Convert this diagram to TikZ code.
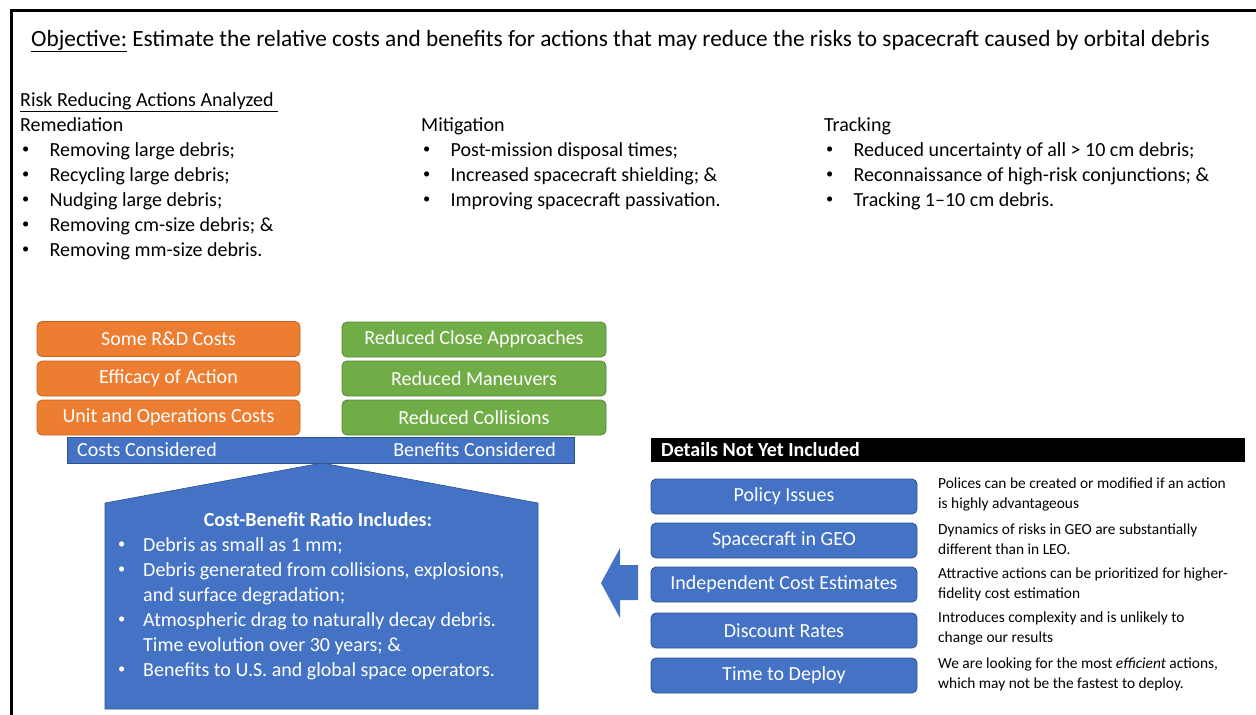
\documentclass[tikz,border=0pt]{standalone}
\usepackage{fontspec}
\setmainfont{Carlito}
\definecolor{ofill}{HTML}{ED7D31}
\definecolor{oline}{HTML}{C5621C}
\definecolor{gfill}{HTML}{70AD47}
\definecolor{gline}{HTML}{53873A}
\definecolor{bfill}{HTML}{4472C4}
\definecolor{bline}{HTML}{2F528F}
\newcommand\smallbul{\raisebox{0.12em}{\scalebox{0.72}{\textbullet}}}
\newcommand\lbul{\makebox[29.5pt][l]{\hspace{2pt}\smallbul}}
\newcommand\hbul{\makebox[25pt][l]{\smallbul}}
\begin{document}
\begin{tikzpicture}[x=1pt,y=-1pt,
  big/.style={font=\fontsize{20}{25}\selectfont},
  small/.style={font=\fontsize{15.4}{19.8}\selectfont},
  listtext/.style={big, anchor=north west, inner sep=0pt, align=left},
  desctext/.style={small, anchor=north west, inner sep=0pt, align=left},
  tile/.style={big, text=white, rounded corners=5pt, line width=0.8pt,
    minimum width=264pt, minimum height=35pt, inner sep=0pt},
  obox/.style={tile, fill=ofill, draw=oline},
  gbox/.style={tile, fill=gfill, draw=gline},
  bbox/.style={tile, fill=bfill, draw=bline, minimum width=266pt},
  barlabel/.style={big, text=white, inner sep=0pt}]
\useasboundingbox (0,0) rectangle (1256,715);
\begin{scope}
\clip (0,0) rectangle (1256,715);
% outer frame
\draw[line width=3pt] (11,730) -- (11,10) -- (1270,10);
\end{scope}

% objective line
\node[anchor=base west, inner sep=0pt, font=\fontsize{23.3}{27}\selectfont] (title) at (31,46)
  {\underline{Objective:} Estimate the relative costs and benefits for actions that may reduce the risks to spacecraft caused by orbital debris};

% risk reducing actions
\node[big, anchor=base west, inner sep=0pt] (rra) at (20,106) {\underline{Risk Reducing Actions Analyzed\ }};
\node[listtext] (remed) at (20,117) {Remediation\\
  \lbul Removing large debris;\\
  \lbul Recycling large debris;\\
  \lbul Nudging large debris;\\
  \lbul Removing cm-size debris; \&\\
  \lbul Removing mm-size debris.};
\node[listtext] (mitig) at (421,117) {Mitigation\\
  \lbul Post-mission disposal times;\\
  \lbul Increased spacecraft shielding; \&\\
  \lbul Improving spacecraft passivation.};
\node[listtext] (track) at (824,117) {Tracking\\
  \lbul Reduced uncertainty of all \textgreater{} 10 cm debris;\\
  \lbul Reconnaissance of high-risk conjunctions; \&\\
  \lbul Tracking 1--10 cm debris.};

% costs
\node[obox, minimum width=263pt] (rd)  at (168.5,339) {Some R\&D Costs};
\node[obox, minimum width=263pt] (eff) at (168.5,378.5) {Efficacy of Action};
\node[obox, minimum width=263pt] (uoc) at (168.5,417.5) {Unit and Operations Costs};
% benefits
\node[gbox] (rca) at (474,339.5) {Reduced Close Approaches};
\node[gbox] (rm)  at (474,378.5) {Reduced Maneuvers};
\node[gbox] (rc)  at (474,417.5) {Reduced Collisions};

% balance beam
\node[fill=bfill, draw=bline, line width=0.5pt, minimum width=507pt, minimum height=26pt, inner sep=0pt] (beam) at (320.5,450) {};
\node[barlabel, anchor=west] (costs) at (77,450) {Costs Considered};
\node[barlabel, anchor=east] (bens) at (556,450) {Benefits Considered};

% house-shaped summary
\draw[fill=bfill, draw=bline, line width=0.6pt]
  (105,709) -- (105,503) -- (322,463) -- (538,503) -- (538,709) -- cycle;
\node[big, text=white, inner sep=0pt, font=\fontsize{20}{25}\selectfont\bfseries] (cbr) at (318,520) {Cost-Benefit Ratio Includes:};
\node[listtext, text=white] (cbl) at (118,537) {\hbul Debris as small as 1 mm;\\
  \hbul Debris generated from collisions, explosions,\\
  \hspace{25pt}and surface degradation;\\
  \hbul Atmospheric drag to naturally decay debris.\\
  \hspace{25pt}Time evolution over 30 years; \&\\
  \hbul Benefits to U.S. and global space operators.};

% details not yet included
\node[fill=black, minimum width=594pt, minimum height=24pt, inner sep=0pt] (dhead) at (948,450) {};
\node[big, text=white, anchor=west, inner sep=0pt, font=\fontsize{20}{25}\selectfont\bfseries] (dtitle) at (661,450) {Details Not Yet Included};

\node[bbox] (pol) at (784,496.5) {Policy Issues};
\node[bbox] (geo) at (784,540.5) {Spacecraft in GEO};
\node[bbox] (ice) at (784,584.5) {Independent Cost Estimates};
\node[bbox] (dis) at (784,630.5) {Discount Rates};
\node[bbox] (ttd) at (784,675.5) {Time to Deploy};

\node[desctext] (dpol) at (938,478) {Polices can be created or modified if an action\\is highly advantageous};
\node[desctext] (dgeo) at (938,524) {Dynamics of risks in GEO are substantially\\different than in LEO.};
\node[desctext] (dice) at (938,568) {Attractive actions can be prioritized for higher-\\fidelity cost estimation};
\node[desctext] (ddis) at (938,612) {Introduces complexity and is unlikely to\\change our results};
\node[desctext] (dttd) at (938,658) {We are looking for the most \emph{efficient} actions,\\which may not be the fastest to deploy.};

% block arrow toward the summary
\fill[bfill] (601,583) -- (620,548) -- (620,565) -- (638,565) -- (638,600)
  -- (620,600) -- (620,618) -- cycle;
\end{tikzpicture}
\end{document}
